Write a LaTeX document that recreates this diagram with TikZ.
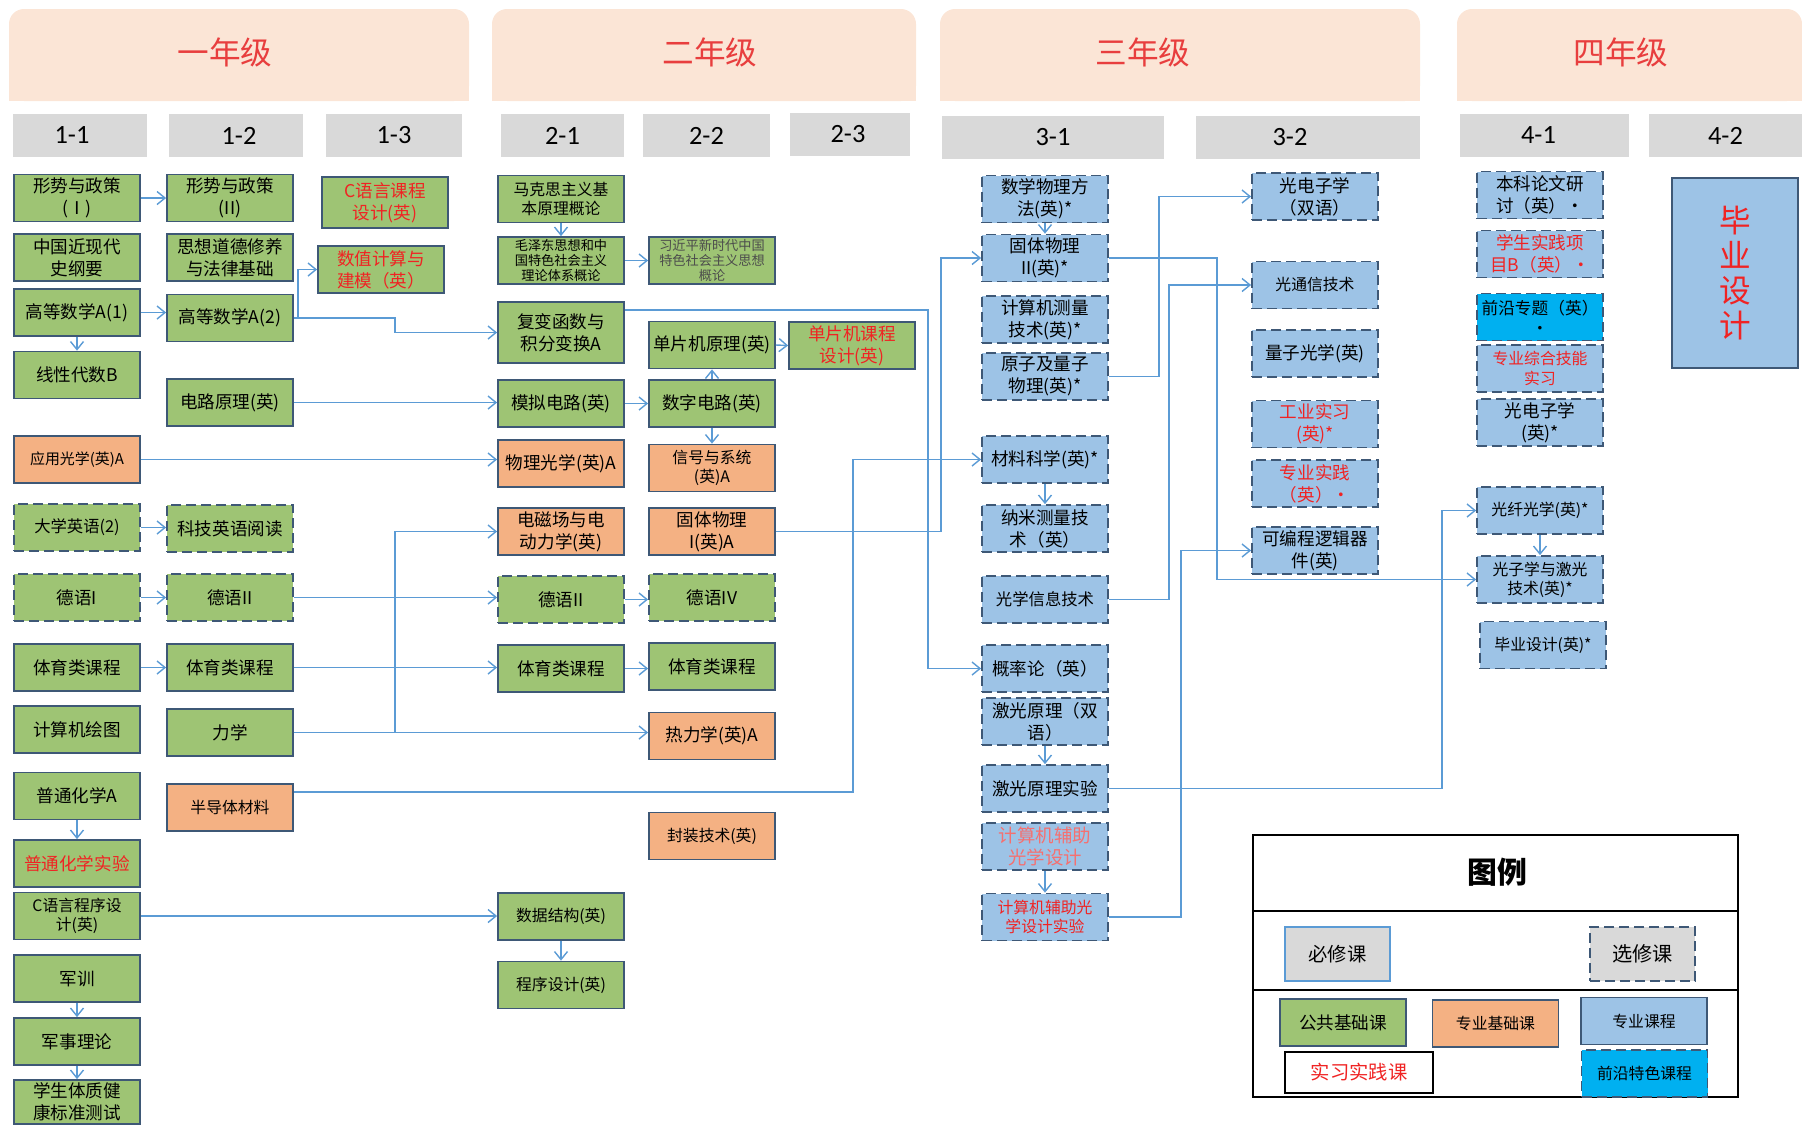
\documentclass[tikz,border=0pt]{standalone}
\usepackage{fontspec}
\setmainfont{Noto Sans CJK SC}
\newfontfamily\semfont{Carlito}
\usetikzlibrary{arrows.meta}
\definecolor{pubgreen}{RGB}{158,196,116}
\definecolor{baseorange}{RGB}{244,177,131}
\definecolor{majorblue}{RGB}{157,195,230}
\definecolor{frontcyan}{RGB}{0,176,240}
\definecolor{edgeblue}{RGB}{62,88,118}
\definecolor{linkblue}{RGB}{91,155,213}
\definecolor{hdrpeach}{RGB}{251,229,214}
\definecolor{semgray}{RGB}{217,217,217}
\definecolor{pracred}{RGB}{240,35,35}
\definecolor{hdrred}{RGB}{232,62,62}

\begin{document}
\begin{tikzpicture}[x=0.2mm,y=-0.2mm,
	course/.style={draw=edgeblue,line width=1pt,minimum width=25.2mm,minimum height=9.4mm,inner sep=1pt,align=center,font=\fontsize{10}{12.5}\selectfont},
	pubbox/.style={course,fill=pubgreen},
	basebox/.style={course,fill=baseorange},
	majorbox/.style={course,fill=majorblue},
	frontbox/.style={course,fill=frontcyan},
	elective/.style={dash pattern=on 2mm off 1mm},
	practice/.style={text=pracred},
	smalltxt/.style={font=\fontsize{9}{11}\selectfont},
	tinytxt/.style={font=\fontsize{7.5}{8.7}\selectfont},
	semester/.style={fill=semgray,minimum height=8.6mm,inner sep=0pt,font=\semfont\fontsize{15}{15}\selectfont},
	link/.style={draw=linkblue,line width=0.8pt,-{Straight Barb[length=1.6mm,width=2.6mm]}}]
	\useasboundingbox (0,0) rectangle (1802,1125);
	% year heads
	\fill[hdrpeach,rounded corners=3mm] (9,9) rectangle (469,101);
	\fill[hdrpeach] (9,60) rectangle (469,101);
	\fill[hdrpeach,rounded corners=3mm] (492,9) rectangle (916,101);
	\fill[hdrpeach] (492,60) rectangle (916,101);
	\fill[hdrpeach,rounded corners=3mm] (940,9) rectangle (1420,101);
	\fill[hdrpeach] (940,60) rectangle (1420,101);
	\fill[hdrpeach,rounded corners=3mm] (1457,9) rectangle (1802,101);
	\fill[hdrpeach] (1457,60) rectangle (1802,101);
	\node[text=hdrred,font=\fontsize{18}{18}\selectfont] (yr1) at (225,52) {一年级};
	\node[text=hdrred,font=\fontsize{18}{18}\selectfont] (yr2) at (710,52) {二年级};
	\node[text=hdrred,font=\fontsize{18}{18}\selectfont] (yr3) at (1143,52) {三年级};
	\node[text=hdrred,font=\fontsize{18}{18}\selectfont] (yr4) at (1621,52) {四年级};
	% semesters
	\node[semester,minimum width=26.8mm] (s11) at (80,135.5) {\hspace*{-3.2mm}1-1};
	\node[semester,minimum width=26.8mm] (s12) at (236,135.5) {\hspace*{1.2mm}1-2};
	\node[semester,minimum width=27.2mm] (s13) at (394,135.5) {1-3};
	\node[semester,minimum width=24.6mm] (s21) at (562.5,135.5) {2-1};
	\node[semester,minimum width=25.4mm] (s22) at (706.5,135.5) {2-2};
	\node[semester,minimum width=24mm] (s23) at (850,134) {\hspace*{-0.8mm}2-3};
	\node[semester,minimum width=44.4mm] (s31) at (1053,137) {3-1};
	\node[semester,minimum width=44.8mm] (s32) at (1308,137) {\hspace*{-7.2mm}3-2};
	\node[semester,minimum width=33.8mm] (s41) at (1544.5,135.5) {\hspace*{-2.4mm}4-1};
	\node[semester,minimum width=30.6mm] (s42) at (1725.5,135.5) {4-2};
	% 1-1
	\node[pubbox] (a1) at (77,198) {形势与政策\\(Ⅰ)};
	\node[pubbox] (a2) at (77,257.5) {中国近现代\\史纲要};
	\node[pubbox] (a3) at (77,312.5) {高等数学A(1)};
	\node[pubbox] (a4) at (77,375) {线性代数B};
	\node[basebox,font=\fontsize{8.5}{10}\selectfont] (a5) at (77,459.5) {应用光学(英)A};
	\node[pubbox,elective,font=\fontsize{9.3}{11}\selectfont] (a6) at (77,527.5) {大学英语(2)};
	\node[pubbox,elective] (a7) at (77,597.5) {德语I};
	\node[pubbox] (a8) at (77,667.5) {体育类课程};
	\node[pubbox] (a9) at (77,729.5) {计算机绘图};
	\node[pubbox] (a10) at (77,796) {普通化学A};
	\node[pubbox,practice] (a11) at (77,863.5) {普通化学实验};
	\node[pubbox,smalltxt] (a12) at (77,916) {C语言程序设\\计(英)};
	\node[pubbox] (a13) at (77,978.5) {军训};
	\node[pubbox] (a14) at (77,1041.5) {军事理论};
	\node[pubbox,minimum height=8.8mm] (a15) at (77,1102) {学生体质健\\康标准测试};
	% 1-2
	\node[pubbox] (b1) at (230,198) {形势与政策\\(II)};
	\node[pubbox] (b2) at (230,257.5) {思想道德修养\\与法律基础};
	\node[pubbox] (b3) at (230,318) {高等数学A(2)};
	\node[pubbox] (b4) at (230,402.5) {电路原理(英)};
	\node[pubbox,elective] (b5) at (230,528.5) {科技英语阅读};
	\node[pubbox,elective] (b6) at (230,597.5) {德语II};
	\node[pubbox] (b7) at (230,667.5) {体育类课程};
	\node[pubbox] (b8) at (230,732.5) {力学};
	\node[basebox,smalltxt] (b9) at (230,807.5) {半导体材料};
	% 1-3
	\node[pubbox,practice,minimum height=10.2mm] (c1) at (385,202.5) {C语言课程\\设计(英)};
	\node[pubbox,practice] (c2) at (381,269.5) {数值计算与\\建模（英）};
	% 2-1
	\node[pubbox,smalltxt] (d1) at (561,199) {马克思主义基\\本原理概论};
	\node[pubbox,tinytxt] (d2) at (561,260.5) {毛泽东思想和中\\国特色社会主义\\理论体系概论};
	\node[pubbox,minimum height=12.2mm] (d3) at (561,332.5) {复变函数与\\积分变换A};
	\node[pubbox] (d4) at (561,403.5) {模拟电路(英)};
	\node[basebox] (d5) at (561,463.5) {物理光学(英)A};
	\node[basebox] (d6) at (561,531.5) {电磁场与电\\动力学(英)};
	\node[pubbox,elective] (d7) at (561,599.5) {德语II};
	\node[pubbox] (d8) at (561,668.5) {体育类课程};
	\node[pubbox,smalltxt] (d9) at (561,916.5) {数据结构(英)};
	\node[pubbox,smalltxt] (d10) at (561,985) {程序设计(英)};
	% 2-2
	\node[pubbox,tinytxt,text=black!70] (e1) at (712,260.5) {习近平新时代中国\\特色社会主义思想\\概论};
	\node[pubbox] (e2) at (712,345) {单片机原理(英)};
	\node[pubbox] (e3) at (712,403.5) {数字电路(英)};
	\node[basebox,smalltxt] (e4) at (712,468) {信号与系统\\(英)A};
	\node[basebox] (e5) at (712,531.5) {固体物理\\I(英)A};
	\node[pubbox,elective] (e6) at (712,597.5) {德语IV};
	\node[pubbox] (e7) at (712,666.5) {体育类课程};
	\node[basebox] (e8) at (712,736) {热力学(英)A};
	\node[basebox,smalltxt] (e9) at (712,836) {封装技术(英)};
	% 2-3
	\node[pubbox,practice] (f1) at (852,345.5) {单片机课程\\设计(英)};
	% 3-1
	\node[majorbox,elective] (g1) at (1045,199) {数学物理方\\法(英)*};
	\node[majorbox,elective] (g2) at (1045,258) {固体物理\\II(英)*};
	\node[majorbox,elective] (g3) at (1045,319.5) {计算机测量\\技术(英)*};
	\node[majorbox,elective] (g4) at (1045,376.5) {原子及量子\\物理(英)*};
	\node[majorbox,elective] (g5) at (1045,459.5) {材料科学(英)*};
	\node[majorbox,elective] (g6) at (1045,528.5) {纳米测量技\\术（英）};
	\node[majorbox,elective,font=\fontsize{9.3}{11}\selectfont] (g7) at (1045,599.5) {光学信息技术};
	\node[majorbox,elective] (g8) at (1045,668.5) {概率论（英）};
	\node[majorbox,elective] (g9) at (1045,721.5) {激光原理（双\\语）};
	\node[majorbox,elective] (g10) at (1045,788.5) {激光原理实验};
	\node[majorbox,elective,text=pracred!65,font=\fontsize{10.5}{12.5}\selectfont] (g11) at (1045,846.5) {计算机辅助\\光学设计};
	\node[majorbox,elective,practice,smalltxt] (g12) at (1045,917) {计算机辅助光\\学设计实验};
	% 3-2
	\node[majorbox,elective] (h1) at (1315,196.5) {光电子学\\（双语）};
	\node[majorbox,elective,smalltxt] (h2) at (1315,285) {光通信技术};
	\node[majorbox,elective] (h3) at (1315,353.5) {量子光学(英)};
	\node[majorbox,elective,practice] (h4) at (1315,424) {工业实习\\(英)*};
	\node[majorbox,elective,practice] (h5) at (1315,483.5) {专业实践\\（英）•};
	\node[majorbox,elective] (h6) at (1315,550.5) {可编程逻辑器\\件(英)};
	% 4-1
	\node[majorbox,elective] (i1) at (1540,195) {本科论文研\\讨（英）•};
	\node[majorbox,elective,practice] (i2) at (1540,254) {学生实践项\\目B（英）•};
	\node[frontbox,elective,font=\fontsize{9.5}{11.5}\selectfont] (i3) at (1540,317) {前沿专题（英）\\•};
	\node[majorbox,elective,practice,smalltxt] (i4) at (1540,368.5) {专业综合技能\\实习};
	\node[majorbox,elective] (i5) at (1540,422.5) {光电子学\\(英)*};
	\node[majorbox,elective,smalltxt] (i6) at (1540,510.5) {光纤光学(英)*};
	\node[majorbox,elective,smalltxt] (i7) at (1540,579.5) {光子学与激光\\技术(英)*};
	\node[majorbox,elective,smalltxt] (i8) at (1543,645) {毕业设计(英)*};
	% 4-2
	\node[majorbox,practice,minimum height=38mm,font=\fontsize{18}{20}\selectfont] (grad) at (1735,273) {毕\\业\\设\\计};
	% links
	\draw[link] (a1.east) -- (b1.west);
	\draw[link] (a3.east) -- (a3.east -| b3.west);
	\draw[link] (a3.south) -- (a4.north);
	\draw[link] (a6.east) -- (a6.east -| b5.west);
	\draw[link] (a7.east) -- (b6.west);
	\draw[link] (a8.east) -- (b7.west);
	\draw[link] (a10.south) -- (a11.north);
	\draw[link] (a13.south) -- (a14.north);
	\draw[link] (a14.south) -- (a15.north);
	\draw[link] (a12.east) -- (a12.east -| d9.west);
	\draw[link] (a5.east) -- (a5.east -| d5.west);
	\draw[link] (b3.east) -- ++(4,0) |- (c2.west);
	\draw[link] (b3.east) -- ++(101,0) |- (d3.west);
	\draw[link] (b4.east) -- (b4.east -| d4.west);
	\draw[link] (b6.east) -- (b6.east -| d7.west);
	\draw[link] (b7.east) -- (b7.east -| d8.west);
	\draw[link] (b8.east) -- (b8.east -| e8.west);
	\draw[link] (b8.east) -- ++(101,0) |- (d6.west);
	\draw[link] ([yshift=-1.8mm]b9.north east) -- ++(559,0) |- (g5.west);
	\draw[link] (d1.south) -- (d2.north);
	\draw[link] (d2.east) -- (e1.west);
	\draw[link] (d4.east) -- (e3.west);
	\draw[link] (e3.north) -- (e2.south);
	\draw[link] (e3.south) -- (e4.north);
	\draw[link] (e2.east) -- (f1.west);
	\draw[link] (d7.east) -- (d7.east -| e6.west);
	\draw[link] (d8.east) -- (d8.east -| e7.west);
	\draw[link] (d9.south) -- (d10.north);
	\draw[link] ([yshift=-1.8mm]d3.north east) -- ++(303,0) |- (g8.west);
	\draw[link] (e5.east) -- ++(165,0) |- (g2.west);
	\draw[link] (g1.south) -- (g2.north);
	\draw[link] (g5.south) -- (g6.north);
	\draw[link] (g9.south) -- (g10.north);
	\draw[link] (g11.south) -- (g12.north);
	\draw[link] (g4.east) -- ++(50,0) |- (h1.west);
	\draw[link] (g2.east) -- ++(108,0) |- (i7.west);
	\draw[link] (g7.east) -- ++(60,0) |- (h2.west);
	\draw[link] (g12.east) -- ++(72,0) |- (h6.west);
	\draw[link] (g10.east) -- ++(333,0) |- (i6.west);
	\draw[link] (i6.south) -- (i7.north);
	% legend
	\draw[line width=1.2pt] (1253,835) rectangle (1738,1097);
	\draw[line width=1.2pt] (1253,911) -- (1738,911);
	\draw[line width=1.2pt] (1253,990) -- (1738,990);
	\node[font=\fontsize{17}{17}\selectfont\bfseries] (legtitle) at (1497,872) {图例};
	\node[course,fill=semgray,draw=linkblue,minimum width=21mm,minimum height=10.8mm,font=\fontsize{11}{13}\selectfont] (leg1) at (1337.5,954) {必修课};
	\node[course,fill=semgray,elective,minimum width=21mm,minimum height=10.8mm,font=\fontsize{11.5}{13}\selectfont] (leg2) at (1642.5,954) {选修课};
	\node[pubbox] (leg3) at (1343,1022.5) {公共基础课};
	\node[basebox,smalltxt] (leg4) at (1495.5,1023.5) {专业基础课};
	\node[majorbox,smalltxt] (leg5) at (1644,1021) {专业课程};
	\node[course,draw=black,fill=white,practice,minimum width=29.6mm,minimum height=8.2mm,font=\fontsize{11}{13}\selectfont] (leg6) at (1359,1072.5) {实习实践课};
	\node[frontbox,elective,smalltxt] (leg7) at (1644.5,1073.5) {前沿特色课程};
\end{tikzpicture}
\end{document}
